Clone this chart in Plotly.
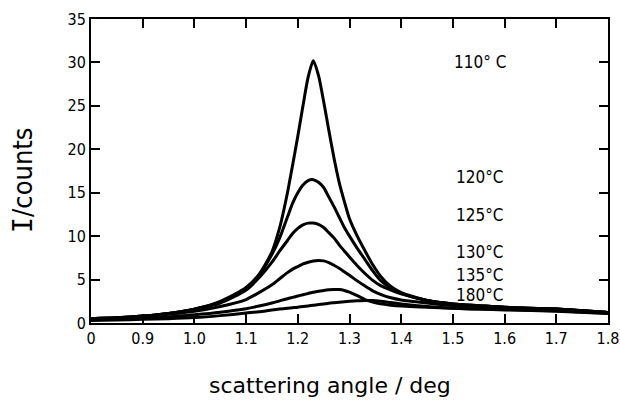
import plotly.graph_objects as go

angle = [0.8, 0.85, 0.9, 0.95, 1.0, 1.05, 1.1, 1.125, 1.15, 1.165, 1.18, 1.19, 1.2, 1.21,
         1.22, 1.23, 1.24, 1.25, 1.26, 1.27, 1.28, 1.29, 1.3, 1.315, 1.33, 1.345, 1.36,
         1.38, 1.4, 1.45, 1.5, 1.55, 1.6, 1.7, 1.8]

i_110 = [0.5, 0.6, 0.8, 1.1, 1.6, 2.5, 4.1, 5.6, 8.2, 11.0, 15.0, 18.2, 21.5, 25.0,
         28.3, 30.2, 28.5, 25.5, 22.2, 19.0, 16.2, 14.0, 12.0, 10.0, 8.3, 6.7, 5.4,
         4.2, 3.5, 2.6, 2.2, 2.0, 1.8, 1.6, 1.2]
i_120 = [0.5, 0.6, 0.8, 1.1, 1.6, 2.4, 4.0, 5.5, 7.9, 9.8, 12.2, 13.8, 15.0, 15.9,
         16.4, 16.5, 16.2, 15.6, 14.5, 13.4, 12.2, 11.0, 10.0, 8.6, 7.3, 6.0, 4.9,
         4.0, 3.4, 2.6, 2.2, 2.0, 1.8, 1.6, 1.2]
i_125 = [0.5, 0.6, 0.8, 1.1, 1.6, 2.3, 3.8, 5.2, 7.0, 8.3, 9.5, 10.3, 10.9, 11.3,
         11.5, 11.5, 11.35, 11.0, 10.4, 9.8, 9.0, 8.3, 7.6, 6.6, 5.7, 4.9, 4.3,
         3.8, 3.35, 2.6, 2.2, 2.0, 1.8, 1.6, 1.2]
i_130 = [0.45, 0.55, 0.7, 1.0, 1.35, 1.9, 2.7, 3.5, 4.4, 5.1, 5.8, 6.2, 6.5, 6.8,
         7.0, 7.15, 7.2, 7.15, 6.95, 6.65, 6.3, 5.9, 5.5, 4.85, 4.25, 3.7, 3.3,
         2.9, 2.65, 2.3, 2.0, 1.9, 1.75, 1.6, 1.2]
i_135 = [0.4, 0.45, 0.55, 0.7, 0.95, 1.25, 1.65, 1.95, 2.3, 2.55, 2.8, 2.95, 3.1, 3.25,
         3.4, 3.55, 3.65, 3.75, 3.82, 3.85, 3.85, 3.75, 3.55, 3.15, 2.7, 2.4, 2.2,
         2.05, 1.95, 1.8, 1.7, 1.6, 1.55, 1.4, 1.1]
i_180 = [0.3, 0.35, 0.42, 0.5, 0.62, 0.85, 1.15, 1.3, 1.5, 1.6, 1.7, 1.76, 1.82, 1.9,
         1.97, 2.05, 2.12, 2.2, 2.28, 2.34, 2.4, 2.45, 2.5, 2.56, 2.6, 2.58, 2.5,
         2.35, 2.2, 1.9, 1.7, 1.6, 1.5, 1.35, 1.1]

series = [("110° C", i_110), ("120°C", i_120), ("125°C", i_125),
          ("130°C", i_130), ("135°C", i_135), ("180°C", i_180)]

label_x = 1.552
label_y = [30.0, 16.8, 12.4, 8.2, 5.5, 3.2]

tick_vals = [0.8, 0.9, 1.0, 1.1, 1.2, 1.3, 1.4, 1.5, 1.6, 1.7, 1.8]
tick_text = ["0", "0.9", "1.0", "1.1", "1.2", "1.3", "1.4", "1.5", "1.6", "1.7", "1.8"]
y_ticks = [0, 5, 10, 15, 20, 25, 30, 35]

FONT = "DejaVu Sans Condensed, DejaVu Sans, sans-serif"
WIDE = "DejaVu Sans, sans-serif"

# plot area in pixels
L, R, T, B = 91, 608, 19, 322.7
PW, PH = R - L, B - T

fig = go.Figure()
for name, ys in series:
    fig.add_trace(go.Scatter(x=angle, y=ys, mode="lines", name=name,
                             line=dict(color="black", width=3, shape="spline", smoothing=0.7),
                             showlegend=False, hoverinfo="skip"))

for (name, _), ly in zip(series, label_y):
    fig.add_annotation(x=label_x, y=ly, text=name, showarrow=False,
                       xanchor="center", yanchor="middle",
                       font=dict(family=FONT, size=17, color="black"))

fig.add_annotation(xref="paper", yref="paper", x=(330 - L) / PW, y=-(385 - B) / PH,
                   xanchor="center", yanchor="middle",
                   text="scattering angle / deg", showarrow=False,
                   font=dict(family=WIDE, size=22, color="black"))
fig.add_annotation(xref="paper", yref="paper", x=-(L - 22) / PW, y=(B - 180) / PH,
                   xanchor="center", yanchor="middle",
                   text="<span style='font-family:DejaVu Sans Mono'>I</span>/counts",
                   showarrow=False, textangle=-90,
                   font=dict(family=FONT, size=27, color="black"))

fig.update_xaxes(range=[0.8, 1.8], tickvals=tick_vals, ticktext=tick_text,
                 ticks="inside", ticklen=9, tickwidth=1.5, tickcolor="black",
                 showline=True, linecolor="black", linewidth=2, mirror="ticks",
                 showgrid=False, zeroline=False, automargin=False,
                 tickfont=dict(family=FONT, size=16, color="black"))
fig.update_yaxes(range=[0, 35], tickvals=y_ticks,
                 ticks="inside", ticklen=9, tickwidth=1.5, tickcolor="black",
                 showline=True, linecolor="black", linewidth=2, mirror="ticks",
                 showgrid=False, zeroline=False, automargin=False,
                 tickfont=dict(family=FONT, size=16, color="black"))

fig.update_layout(width=620, height=400, margin=dict(l=L, r=620 - R, t=T, b=400 - B),
                  paper_bgcolor="white", plot_bgcolor="white")

fig.write_html("out.html")
